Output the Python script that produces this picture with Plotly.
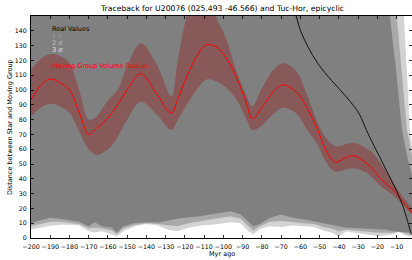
import plotly.graph_objects as go

# ---------------- data ----------------
# Moving group volume-radius (red) : time, centre, upper, lower
t_mg = [-200, -195, -190, -185, -180, -175, -170, -166, -160, -155, -150, -143, -135, -127,
        -124, -120, -114, -109, -104, -99, -93, -88, -85, -80, -74, -69, -62, -57, -51, -47,
        -42, -36, -32, -26, -22, -19, -14, -11, -7, -2]
mg_center = [93.4, 103, 107.5, 105, 100, 85, 70, 74, 81, 90, 100, 111, 98, 84.4,
             93, 106, 122.6, 130.5, 129.3, 122.6, 108, 91, 80.6, 88, 99, 103.5, 98.5, 89, 73, 60,
             51.4, 54.5, 55.6, 50.7, 46, 41, 35, 31.5, 25, 17]
mg_upper = [113.6, 121, 124.2, 123, 118, 100, 80, 82, 93, 100, 116, 131.6, 118, 95.6,
            118, 145, 170, 175, 150, 136, 112, 96, 89, 101, 113.6, 118.1, 112.5, 98, 78, 68,
            62, 63.5, 64.2, 60.8, 57, 52, 42, 36, 28, 20.4]
mg_lower = [82, 88, 90.7, 89, 84.4, 72, 60, 56.3, 60, 68, 80, 92, 84, 73,
            79, 88, 100, 107, 106, 102, 93, 80, 73, 76, 84, 88, 84, 74, 63, 52,
            45, 46.5, 47, 44.5, 40, 36, 31, 28, 22.6, 15.8]

# Real values (black)
t_real = [-64, -62.3, -59.9, -56, -50.8, -43.8, -36, -29.5, -25.6, -22.9, -18.5, -14.2, -9.9,
          -6.4, -3.8, -2.4]
real_vals = [156, 150.2, 140, 129, 117.7, 106.4, 95.2, 84, 72.7, 65.3, 54, 42.8, 31.6,
             20.4, 9.1, 2.4]

# sigma bands: lower edges
t_s = [-200, -195, -190, -185, -180, -175, -170, -167, -163, -158, -155.5, -152, -146, -140,
       -134, -129, -124, -118, -112, -106, -100, -96, -91, -87, -84.5, -81, -76, -70, -64, -58,
       -53, -48, -44, -40, -36, -32, -27, -23, -19, -15, -12, -9, -6, -4, -2]
low1 = [10.2, 12, 13.6, 13, 12, 11, 8, 10.7, 8, 7, 3.7, 8, 10.2, 10.7,
        10.5, 12, 13, 14, 14.7, 16, 17.5, 18, 15.8, 11, 8, 9.5, 13.5, 15.8, 13.6, 12.5,
        11.3, 10.2, 9, 8, 7, 6.8, 6.4, 6.2, 6, 5.5, 4.6, 4.5, 4, 3.7, 3.5]
low2 = [8, 9.5, 11, 11, 10.5, 9.5, 6.5, 7, 6.5, 5, 2.5, 6.5, 9, 10,
        9.5, 9, 8, 10, 11.5, 12.5, 14, 14.5, 13, 8, 5, 8, 11, 11.5, 11, 10,
        9.5, 7.5, 6.5, 4.5, 5.5, 5, 4.5, 4, 3.5, 3.5, 3.5, 4.3, 3, 2.5, 2]
low3 = [5.7, 7, 8.2, 9, 9, 8.4, 4.6, 3.7, 4.6, 2.4, 1, 4.6, 8, 9.5,
        8.5, 5.7, 4.6, 7, 8.5, 9, 10.2, 10.7, 10, 4.5, 2.4, 6, 8, 7.5, 8.4, 7.8,
        7.5, 5, 3.7, 1.2, 4.6, 3.5, 2.4, 2, 1.2, 1.8, 2.4, 4.2, 2, 1.2, 1]
# sigma bands: upper edges
t_u1 = [-200, -16, -13.5, -10, -7.3, -4.5, -2]
up1 = [200, 180, 150, 110, 74, 55, 43]
t_u2 = [-200, -12, -9.9, -7, -4.7, -2]
up2 = [200, 180, 150, 108, 74, 55]
t_u3 = [-200, -8, -6.2, -3.1, -2]
up3 = [200, 180, 150, 74, 62]

x_ticks = list(range(-200, 0, 10))
y_ticks = list(range(0, 150, 10))

title = "Traceback for U20076 (025.493 -46.566) and Tuc-Hor, epicyclic"
FONT = "DejaVu Sans"

# ---------------- figure ----------------
fig = go.Figure()

band_colors = ["#d3d3d3", "#a9a9a9", "#808080"]
bands = [(low3, t_u3, up3), (low2, t_u2, up2), (low1, t_u1, up1)]
for col, (lo, tu, up) in zip(band_colors, bands):
    fig.add_trace(go.Scatter(
        x=t_s + tu[::-1], y=lo + up[::-1], mode="lines", fill="toself",
        fillcolor=col, line=dict(width=0), hoverinfo="skip", showlegend=False))

# red band
fig.add_trace(go.Scatter(x=t_mg, y=mg_lower, mode="lines", line=dict(width=0, shape="spline"),
                         showlegend=False, hoverinfo="skip"))
fig.add_trace(go.Scatter(x=t_mg, y=mg_upper, mode="lines", line=dict(width=0, shape="spline"),
                         fill="tonexty", fillcolor="rgba(150,10,10,0.33)",
                         showlegend=False, hoverinfo="skip"))
fig.add_trace(go.Scatter(x=t_mg, y=mg_center, mode="lines",
                         line=dict(color="#ff0000", width=1, shape="spline"), showlegend=False))
fig.add_trace(go.Scatter(x=t_real, y=real_vals, mode="lines",
                         line=dict(color="#111111", width=1, shape="spline"), showlegend=False))

axis_common = dict(showgrid=False, zeroline=False, ticks="inside", ticklen=3, tickwidth=0.8,
                   tickcolor="#000", showline=True, linecolor="#000", linewidth=1,
                   mirror="allticks", automargin=False, tickangle=0,
                   tickfont=dict(family=FONT, size=6.3, color="#000"))

fig.update_xaxes(range=[-200, -2], tickvals=x_ticks, ticklabelstandoff=2, **axis_common)
fig.update_yaxes(range=[0, 150], tickvals=y_ticks, ticklabelstandoff=2, **axis_common)

legend_items = [("Real Values", "#000000", 141.5),
                ("1 <i>σ</i>", "#9a9a9a", 136.7),
                ("2 <i>σ</i>", "#c4c4c4", 131.8),
                ("3 <i>σ</i>", "#e6e6e6", 126.9),
                ("Moving Group Volume-Radius", "#ff0000", 116.5)]
annotations = []
for txt, col, yv in legend_items:
    annotations.append(dict(x=-190.1, y=yv, xref="x", yref="y", text=txt, showarrow=False,
                            xanchor="left", yanchor="middle",
                            font=dict(family=FONT, size=6.5, color=col)))
annotations.append(dict(x=0.5, y=1, xref="paper", yref="paper", text=title, showarrow=False,
                        xanchor="center", yanchor="bottom", yshift=1,
                        font=dict(family=FONT, size=7.7, color="#000")))
annotations.append(dict(x=0.5, y=0, xref="paper", yref="paper", text="Myr ago", showarrow=False,
                        xanchor="center", yanchor="top", yshift=-10,
                        font=dict(family=FONT, size=6.5, color="#000")))
annotations.append(dict(x=0, y=0.5, xref="paper", yref="paper",
                        text="Distance between Star and Moving Group", showarrow=False,
                        textangle=-90, xanchor="center", yanchor="middle", xshift=-21,
                        font=dict(family=FONT, size=6.5, color="#000")))

fig.update_layout(width=412, height=260, margin=dict(l=31, r=0, t=16, b=21.5),
                  paper_bgcolor="white", plot_bgcolor="white", showlegend=False,
                  hovermode=False, dragmode=False, annotations=annotations)

fig.write_html("out.html", config={"displayModeBar": False, "staticPlot": True},
               post_script="document.body.style.margin='0';document.body.style.overflow='hidden';")
